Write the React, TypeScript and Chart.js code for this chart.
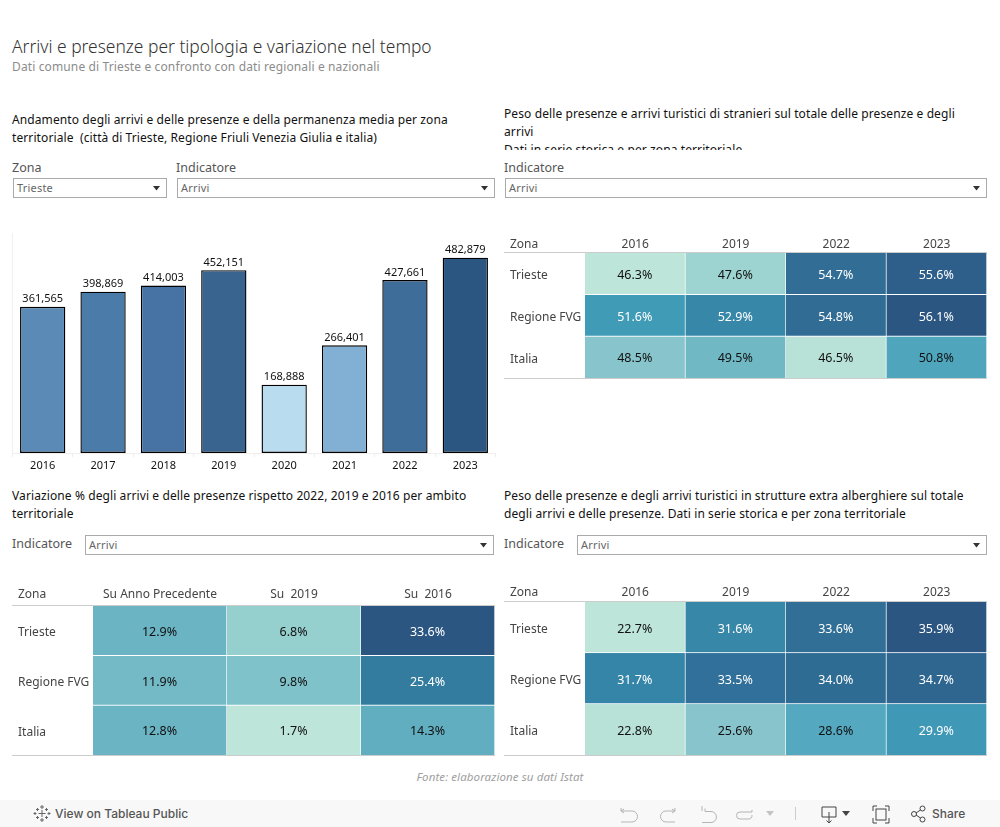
import React, { useEffect, useRef } from "react";
import { Chart, registerables } from "chart.js";

Chart.register(...registerables);

const FONT = '"Noto Sans"';

const barYears = ["2016", "2017", "2018", "2019", "2020", "2021", "2022", "2023"];
const barValues = [361565, 398869, 414003, 452151, 168888, 266401, 427661, 482879];
const barColors = ["#5a8ab5", "#4a7ba9", "#4673a3", "#39648f", "#b9dcef", "#82b0d4", "#3e6d9a", "#2b5682"];

const zones = ["Trieste", "Regione FVG", "Italia"];
const heatYears = ["2016", "2019", "2022", "2023"];
const varColumns = ["Su Anno Precedente", "Su  2019", "Su  2016"];

const foreignValues = [
  ["46.3%", "47.6%", "54.7%", "55.6%"],
  ["51.6%", "52.9%", "54.8%", "56.1%"],
  ["48.5%", "49.5%", "46.5%", "50.8%"],
];
const foreignColors = [
  ["#bde5da", "#9dd3d0", "#316d95", "#2e5f8a"],
  ["#409bb7", "#3787a9", "#316c94", "#2b5682"],
  ["#88c4cb", "#6fb8c4", "#b8e2d8", "#4ea5bc"],
];
const varValues = [
  ["12.9%", "6.8%", "33.6%"],
  ["11.9%", "9.8%", "25.4%"],
  ["12.8%", "1.7%", "14.3%"],
];
const varColors = [
  ["#6ab4c4", "#95cfce", "#2b5682"],
  ["#73b9c6", "#80c2ca", "#337c9f"],
  ["#6ab4c4", "#bde5da", "#61aec0"],
];
const extraValues = [
  ["22.7%", "31.6%", "33.6%", "35.9%"],
  ["31.7%", "33.5%", "34.0%", "34.7%"],
  ["22.8%", "25.6%", "28.6%", "29.9%"],
];
const extraColors = [
  ["#bde5da", "#3787a9", "#316f97", "#2b5682"],
  ["#3585a8", "#31709a", "#2f6c94", "#2f6690"],
  ["#b8e2d8", "#88c4cb", "#54a8bf", "#3f98b6"],
];

function BarChart() {
  const ref = useRef<HTMLCanvasElement>(null);
  useEffect(() => {
    const chart = new Chart(ref.current!, {
      type: "bar",
      data: {
        labels: barYears,
        datasets: [{
          data: barValues,
          backgroundColor: barColors,
          borderColor: "#000",
          borderWidth: 1.4,
          borderSkipped: false,
          barPercentage: 0.75,
          categoryPercentage: 1,
        }],
      },
      options: {
        responsive: false,
        animation: false,
        layout: { padding: { left: 12.5, right: 4.5, top: 8, bottom: 0 } },
        plugins: { legend: { display: false }, tooltip: { enabled: false } },
        scales: {
          x: {
            offset: true,
            grid: { drawOnChartArea: false, drawTicks: true, tickLength: 4, color: "#eeeeee", offset: true },
            border: { color: "#eeeeee" },
            ticks: { color: "#111", font: { family: FONT, size: 11 }, padding: 2, maxRotation: 0 },
            afterFit: (s: any) => { s.height = 22; },
          },
          y: {
            min: 0,
            max: 544000,
            grid: { display: false },
            border: { display: true, color: "#f0f0f0" },
            ticks: { display: false },
            afterFit: (s: any) => { s.width = 0; },
          },
        },
      },
      plugins: [{
        id: "barLabels",
        afterDatasetsDraw(c: any) {
          const ctx = c.ctx;
          ctx.save();
          ctx.font = `11px ${FONT}`;
          ctx.fillStyle = "#111";
          ctx.textAlign = "center";
          ctx.textBaseline = "bottom";
          c.getDatasetMeta(0).data.forEach((el: any, i: number) => {
            ctx.fillText(barValues[i].toLocaleString("en-US"), el.x, el.y - 2);
          });
          ctx.restore();
        },
      }],
    } as any);
    return () => chart.destroy();
  }, []);
  return <canvas ref={ref} width={500} height={250} style={{ position: "absolute", left: 0, top: 225 }} />;
}

function Heat(props: {
  left: number; top: number; width: number; height: number; headerH: number; headerPad: number;
  columns: string[]; values: string[][]; colors: string[][];
}) {
  const { left, top, width, height, headerH, headerPad, columns, values, colors } = props;
  const ref = useRef<HTMLCanvasElement>(null);
  useEffect(() => {
    const rowH = (height - 1 - headerH) / zones.length;
    const chart = new Chart(ref.current!, {
      type: "bar",
      data: {
        labels: columns,
        datasets: zones.map((_, r) => ({
          label: zones[r],
          data: columns.map(() => 1),
          backgroundColor: colors[r],
          borderColor: "#fff",
          borderWidth: { top: 0, left: 0, right: 1, bottom: r < 2 ? 1 : 0 },
          borderSkipped: false,
          barPercentage: 1,
          categoryPercentage: 1,
        })),
      },
      options: {
        responsive: false,
        animation: false,
        layout: { padding: { left: 6, right: 0, top: 0, bottom: 1 } },
        plugins: { legend: { display: false }, tooltip: { enabled: false } },
        scales: {
          x: {
            position: "top",
            stacked: true,
            grid: { display: false, drawTicks: false },
            border: { display: false },
            ticks: { color: "#444", font: { family: FONT, size: 12 }, padding: headerPad, maxRotation: 0, autoSkip: false },
            afterFit: (s: any) => { s.height = headerH; },
          },
          y: {
            stacked: true,
            min: 0,
            max: 3,
            reverse: true,
            grid: { display: false, drawTicks: false },
            border: { display: false },
            afterBuildTicks: (s: any) => { s.ticks = zones.map((_, i) => ({ value: i + 0.5 + 2 / rowH })); },
            ticks: {
              color: "#444",
              crossAlign: "far",
              autoSkip: false,
              font: { family: FONT, size: 12 },
              callback: (v: any) => zones[Math.floor(Number(v))],
            },
            afterFit: (s: any) => { s.width = 75; s.paddingTop = 0; s.paddingBottom = 0; },
          },
        },
      },
      plugins: [{
        id: "cellLabels",
        afterDatasetsDraw(c: any) {
          const ctx = c.ctx;
          ctx.save();
          ctx.font = `12.5px ${FONT}`;
          ctx.textAlign = "center";
          ctx.textBaseline = "middle";
          values.forEach((row, r) => {
            c.getDatasetMeta(r).data.forEach((el: any, i: number) => {
              ctx.fillStyle = parseInt(colors[r][i].slice(1, 3), 16) < 0x48 ? "#ffffff" : "#111111";
              ctx.fillText(row[i], el.x - 0.5, (el.y + el.base) / 2 + 1.5);
            });
          });
          const a = c.chartArea;
          ctx.strokeStyle = "#cccccc";
          ctx.lineWidth = 1;
          [a.top - 0.5, a.bottom + 0.5].forEach((y: number) => {
            ctx.beginPath();
            ctx.moveTo(0, y);
            ctx.lineTo(a.right, y);
            ctx.stroke();
          });
          ctx.font = `12px ${FONT}`;
          ctx.fillStyle = "#444";
          ctx.textAlign = "left";
          ctx.textBaseline = "middle";
          ctx.fillText("Zona", c.scales.y.left, a.top - headerPad - 7);
          ctx.restore();
        },
      }],
    } as any);
    return () => chart.destroy();
  }, []);
  return <canvas ref={ref} width={width} height={height} style={{ position: "absolute", left, top }} />;
}

const T = (p: { x: number; y: number; w?: number; size: number; color: string; lh?: number; h?: number; ls?: number; children: any; extra?: any }) => (
  <div style={{
    position: "absolute", left: p.x, top: p.y, width: p.w, height: p.h, overflow: p.h ? "hidden" : undefined,
    fontFamily: FONT, fontSize: p.size, color: p.color, lineHeight: `${p.lh ?? 18}px`, letterSpacing: p.ls, whiteSpace: "pre-wrap", ...p.extra,
  }}>{p.children}</div>
);

const Drop = (p: { x: number; y: number; w: number; h: number; label: string }) => (
  <div style={{ position: "absolute", left: p.x, top: p.y, width: p.w, height: p.h, boxSizing: "border-box", border: "1px solid #aaaaaa", background: "#fff" }}>
    <span style={{ position: "absolute", left: 3, top: 0, lineHeight: `${p.h - 2}px`, fontFamily: FONT, fontSize: 11, letterSpacing: 0.2, color: "#666" }}>{p.label}</span>
    <svg width="8" height="5" style={{ position: "absolute", right: 5, top: (p.h - 7) / 2 }}><path d="M0 0H7L3.5 4.5Z" fill="#333" /></svg>
  </div>
);

function Toolbar() {
  const s = { fill: "none", stroke: "#b5b5b5", strokeWidth: 1 };
  return (
    <div style={{ position: "absolute", left: 0, top: 800, width: 1000, height: 27, background: "#f8f8f8" }}>
      <svg width="1000" height="27" style={{ position: "absolute", left: 0, top: 0 }}>
        <g stroke="#666" strokeWidth="1" fill="none">
          <path d="M42 5v4M40 7h4M42 18v4M40 20h4M35 12v3M33.500 13.500h3M49 12v3M47.500 13.500h3M37.500 8v3M36 9.500h3M46.500 8v3M45 9.500h3M37.500 16v3M36 17.500h3M46.500 16v3M45 17.500h3M42 10v7M38.500 13.500h7" />
        </g>
        <path d="M621 8v3h11a5.500 5.500 0 0 1 0 11h-11M621 11l3-2M621 11l3 2" {...s} />
        <path d="M675 8v3h-9a5.500 5.500 0 0 0 0 11h9M675 11l-3-2M675 11l-3 2" {...s} />
        <path d="M702 6v5M705 8.500v3h6a5.500 5.500 0 0 1 0 11h-9" {...s} />
        <path d="M752 10v2h-12a3.500 3.500 0 0 0 0 7h8a3.500 3.500 0 0 0 4-4" {...s} />
        <path d="M766 11h8l-4 5Z" fill="#c4c4c4" />
        <path d="M795.500 7v13" stroke="#cccccc" />
        <path d="M822 7h14v10h-14ZM829 12v11M826.500 20.500l2.500 2.500 2.500-2.500" fill="none" stroke="#444" />
        <path d="M842 11h8l-4 5Z" fill="#444" />
        <path d="M873 11V6h4M885 6h4v5M889 18v5h-4M877 23h-4v-5" fill="none" stroke="#444" />
        <rect x="876" y="9" width="10" height="11" fill="none" stroke="#444" />
        <g fill="none" stroke="#444"><circle cx="914" cy="14" r="2.500" /><circle cx="922.500" cy="8.500" r="2.500" /><circle cx="922.500" cy="19.500" r="2.500" /><path d="M916 13l4.500-3M916 15l4.500 3" /></g>
      </svg>
      <span style={{ position: "absolute", left: 55, top: 0, lineHeight: "27px", fontFamily: "Inter", fontSize: 12, fontWeight: 500, color: "#555" }}>View on Tableau Public</span>
      <span style={{ position: "absolute", left: 932, top: 0, lineHeight: "27px", fontFamily: "Inter", fontSize: 12, fontWeight: 500, color: "#555" }}>Share</span>
    </div>
  );
}

export default function App() {
  return (
    <div style={{ position: "absolute", left: 0, top: 0, width: 1000, height: 827, overflow: "hidden", background: "#fff" }}>
      <T x={12} y={33.500} size={17.400} color="#333" lh={24} extra={{ fontWeight: 300 }}>Arrivi e presenze per tipologia e variazione nel tempo</T>
      <T x={12} y={58} size={12} ls={0.13} color="#8c8c8c">Dati comune di Trieste e confronto con dati regionali e nazionali</T>

      <T x={12} y={111} w={480} size={12} ls={0.1} color="#111">{"Andamento degli arrivi e delle presenze e della permanenza media per zona\nterritoriale  (città di Trieste, Regione Friuli Venezia Giulia e italia)"}</T>
      <T x={12} y={159} size={12.5} color="#555">Zona</T>
      <T x={176} y={159} size={12.5} color="#555">Indicatore</T>
      <Drop x={13} y={178} w={154} h={20} label="Trieste" />
      <Drop x={177} y={178} w={318} h={20} label="Arrivi" />

      <T x={504} y={105} w={483} h={45} size={12} ls={0.1} color="#111">{"Peso delle presenze e arrivi turistici di stranieri sul totale delle presenze e degli\narrivi\nDati in serie storica e per zona territoriale"}</T>
      <T x={504} y={159} size={12.5} color="#555">Indicatore</T>
      <Drop x={505} y={178} w={482} h={20} label="Arrivi" />

      <BarChart />
      <Heat left={504} top={225} width={483} height={154} headerH={28} headerPad={1} columns={heatYears} values={foreignValues} colors={foreignColors} />

      <T x={12} y={487} w={484} size={12} ls={0.1} color="#111">{"Variazione % degli arrivi e delle presenze rispetto 2022, 2019 e 2016 per ambito\nterritoriale"}</T>
      <T x={12} y={535} size={12.5} color="#555">Indicatore</T>
      <Drop x={85} y={535} w={409} h={20} label="Arrivi" />

      <T x={504} y={487} w={490} size={12} ls={0.1} color="#111">{"Peso delle presenze e degli arrivi turistici in strutture extra alberghiere sul totale\ndegli arrivi e delle presenze. Dati in serie storica e per zona territoriale"}</T>
      <T x={504} y={535} size={12.5} color="#555">Indicatore</T>
      <Drop x={577} y={535} w={410} h={20} label="Arrivi" />

      <Heat left={12} top={578} width={483} height={178} headerH={28} headerPad={4.5} columns={varColumns} values={varValues} colors={varColors} />
      <Heat left={504} top={574} width={483} height={182} headerH={28} headerPad={2.5} columns={heatYears} values={extraValues} colors={extraColors} />

      <T x={0} y={768} w={1000} size={11.5} ls={0.1} color="#a0a0a0" extra={{ textAlign: "center", fontStyle: "italic" }}>Fonte: elaborazione su dati Istat</T>
      <Toolbar />
    </div>
  );
}
